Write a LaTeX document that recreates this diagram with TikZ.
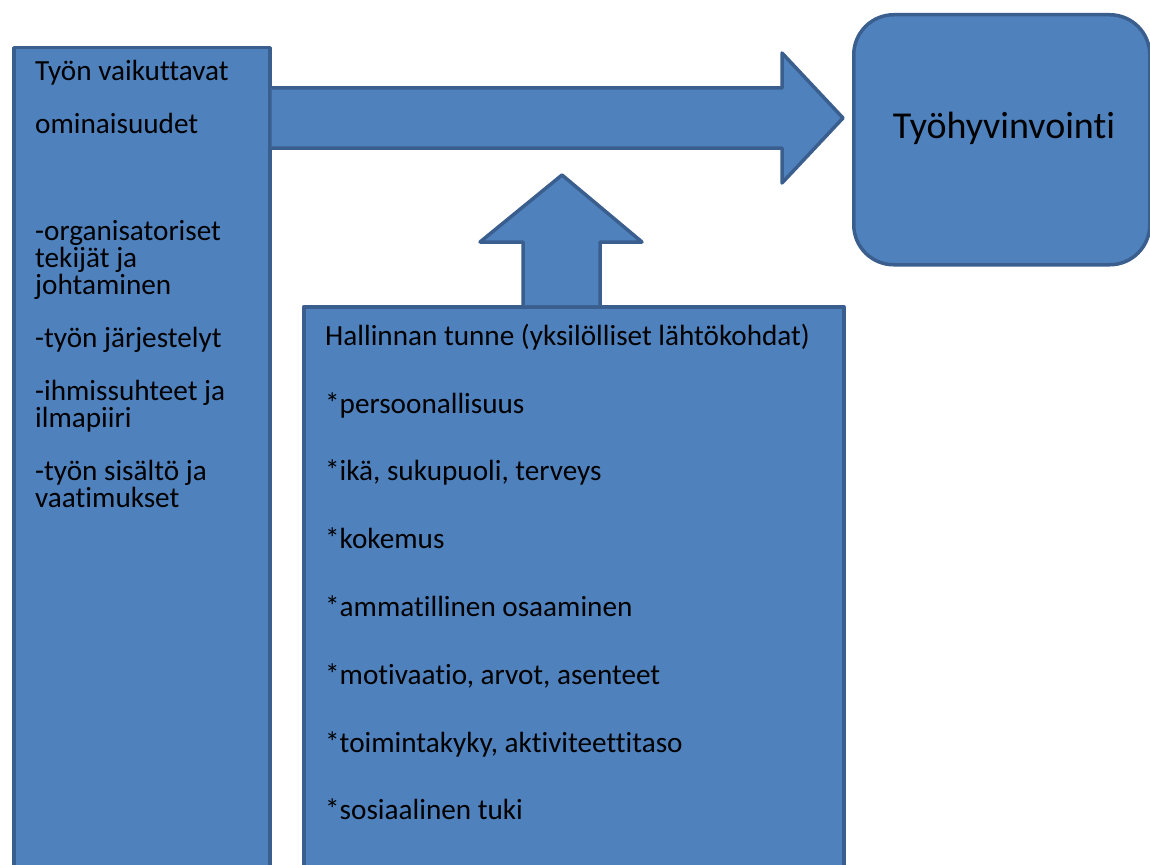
\documentclass[tikz,border=0pt]{standalone}
\usepackage{fontspec}
\setmainfont{Carlito}[Ligatures=NoCommon]
\usetikzlibrary{calc}
\definecolor{boxfill}{HTML}{4F81BD}
\definecolor{boxline}{HTML}{3A5F8E}
\tikzset{
  block/.style={draw=boxline, fill=boxfill, line width=3.5pt, line join=round},
  itemtext/.style={anchor=base west, inner sep=0pt, font=\fontsize{29.2}{26}\selectfont},
  goaltext/.style={anchor=base, inner sep=0pt, font=\fontsize{38}{40}\selectfont}
}

\begin{document}
\begin{tikzpicture}[x=1pt,y=-1pt]
\clip (0,0) rectangle (1150,864);
\fill[white] (0,0) rectangle (1150,864);

% boxes
\node[block, anchor=north west, minimum width=256pt, minimum height=900pt] (factors) at (12,46) {};
\node[block, anchor=north west, minimum width=540pt, minimum height=700pt] (control) at (302,305) {};
\node[block, anchor=north west, minimum width=296pt, minimum height=250pt, rounded corners=40pt] (goal) at (852,13) {};

% block arrows
\filldraw[block] ($(factors.north east)+(0,42)$) -- (782,88) -- (782,53) -- (843,118)
  -- (782,183) -- (782,148) -- ($(factors.north east)+(0,102)$);
\filldraw[block] ($(control.north west)+(221,0)$) -- (523,242) -- (480,242) -- (562,175)
  -- (642,242) -- (600,242) -- ($(control.north west)+(298,0)$);

% texts
\node[goaltext] (goaltitle) at (1004,139) {Työhyvinvointi};

\node[itemtext] (f1) at (35,81) {Työn vaikuttavat};
\node[itemtext] (f2) at (35,133) {ominaisuudet};
\node[itemtext] (f3) at (35,240) {-organisatoriset};
\node[itemtext] (f4) at (35,267) {tekijät ja};
\node[itemtext] (f5) at (35,294) {johtaminen};
\node[itemtext] (f6) at (35,347) {-työn järjestelyt};
\node[itemtext] (f7) at (35,400) {-ihmissuhteet ja};
\node[itemtext] (f8) at (35,427) {ilmapiiri};
\node[itemtext] (f9) at (35,480) {-työn sisältö ja};
\node[itemtext] (f10) at (35,507) {vaatimukset};

\node[itemtext] (c1) at (325,345) {Hallinnan tunne (yksilölliset lähtökohdat)};
\node[itemtext] (c2) at (325,413) {*persoonallisuus};
\node[itemtext] (c3) at (325,480) {*ikä, sukupuoli, terveys};
\node[itemtext] (c4) at (325,548) {*kokemus};
\node[itemtext] (c5) at (325,616) {*ammatillinen osaaminen};
\node[itemtext] (c6) at (325,684) {*motivaatio, arvot, asenteet};
\node[itemtext] (c7) at (325,752) {*toimintakyky, aktiviteettitaso};
\node[itemtext] (c8) at (325,819) {*sosiaalinen tuki};
\end{tikzpicture}
\end{document}
